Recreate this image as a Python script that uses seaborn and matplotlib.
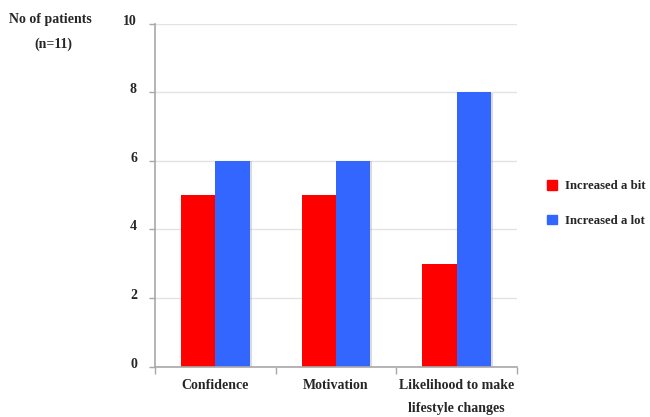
import matplotlib
matplotlib.use("Agg")
import matplotlib.pyplot as plt
import matplotlib.transforms as mtransforms
import matplotlib.patheffects as pe
import seaborn as sns
import pandas as pd

# Survey results: number of patients (n=11) per outcome
categories = ["Confidence", "Motivation", "Likelihood to make\nlifestyle changes"]
series_names = ["Increased a bit", "Increased a lot"]
increased_bit = [5, 5, 3]
increased_lot = [6, 6, 8]
y_ticks = [0, 2, 4, 6, 8, 10]
colors = ["#ff0000", "#3366ff"]

df = pd.DataFrame({
    "category": categories * 2,
    "response": [series_names[0]] * len(categories) + [series_names[1]] * len(categories),
    "patients": increased_bit + increased_lot,
})

sns.set_theme(style="white")
plt.rcParams["font.family"] = ["Liberation Serif", "DejaVu Serif"]
plt.rcParams["font.weight"] = "bold"

fig = plt.figure(figsize=(6.5, 4.17), dpi=100)
ax = fig.add_axes([155 / 650, 1 - 366.7 / 417, (517 - 155) / 650, (366.7 - 23.5) / 417])

sns.barplot(data=df, x="category", y="patients", hue="response", order=categories,
            hue_order=series_names, palette=colors, width=0.57, saturation=1,
            linewidth=0, ax=ax, legend=False)

# soft drop shadow on bars
for bar in ax.patches:
    bar.set_path_effects([pe.SimplePatchShadow(offset=(1.5, -0.5), shadow_rgbFace="#999999", alpha=0.35),
                          pe.Normal()])

ax.set_xlim(-0.5, len(categories) - 0.5)
ax.set_ylim(0, 10)
ax.set_xlabel("")
ax.set_ylabel("")

# tick marks at category boundaries, labels centred under groups
ax.set_xticks([i - 0.5 for i in range(len(categories) + 1)])
ax.set_xticklabels([])
ax.set_xticks(range(len(categories)), minor=True)
ax.set_xticklabels(categories, minor=True, fontsize=10, fontweight="bold", linespacing=2.0, va="top")
ax.tick_params(axis="x", which="major", direction="out", length=5, width=1, color="#a8a8a8", bottom=True)
ax.tick_params(axis="x", which="minor", length=0, pad=8.5)

ax.set_yticks(y_ticks)
ax.set_yticklabels([str(v) for v in y_ticks], fontsize=10, fontweight="bold")
ax.tick_params(axis="y", direction="out", length=4, width=1, color="#a8a8a8", left=True, pad=9)
shift = mtransforms.ScaledTranslation(0, 4 / 100, fig.dpi_scale_trans)
for lbl in ax.get_yticklabels():
    lbl.set_transform(lbl.get_transform() + shift)

ax.yaxis.grid(True, color="#e3e3e3", linewidth=1)
ax.xaxis.grid(False)
ax.set_axisbelow(True)
for side in ["top", "right"]:
    ax.spines[side].set_visible(False)
for side in ["left", "bottom"]:
    ax.spines[side].set_color("#a8a8a8")
    ax.spines[side].set_linewidth(1.2)

fig.text(50 / 650, 1 - 19 / 417, "No of patients", ha="center", va="center", fontsize=10, fontweight="bold")
fig.text(53 / 650, 1 - 44 / 417, "(n=11)", ha="center", va="center", fontsize=10, fontweight="bold")

handles = [plt.Rectangle((0, 0), 1, 1, color=c) for c in colors]
ax.legend(handles, series_names, loc="upper left", bbox_to_anchor=(547 / 650, 1 - 180 / 417),
          bbox_transform=fig.transFigure, frameon=False, fontsize=9.2, handlelength=0.8,
          handleheight=0.8, labelspacing=1.75, handletextpad=0.6, borderpad=0, borderaxespad=0)

fig.savefig("out.png", dpi=100)
